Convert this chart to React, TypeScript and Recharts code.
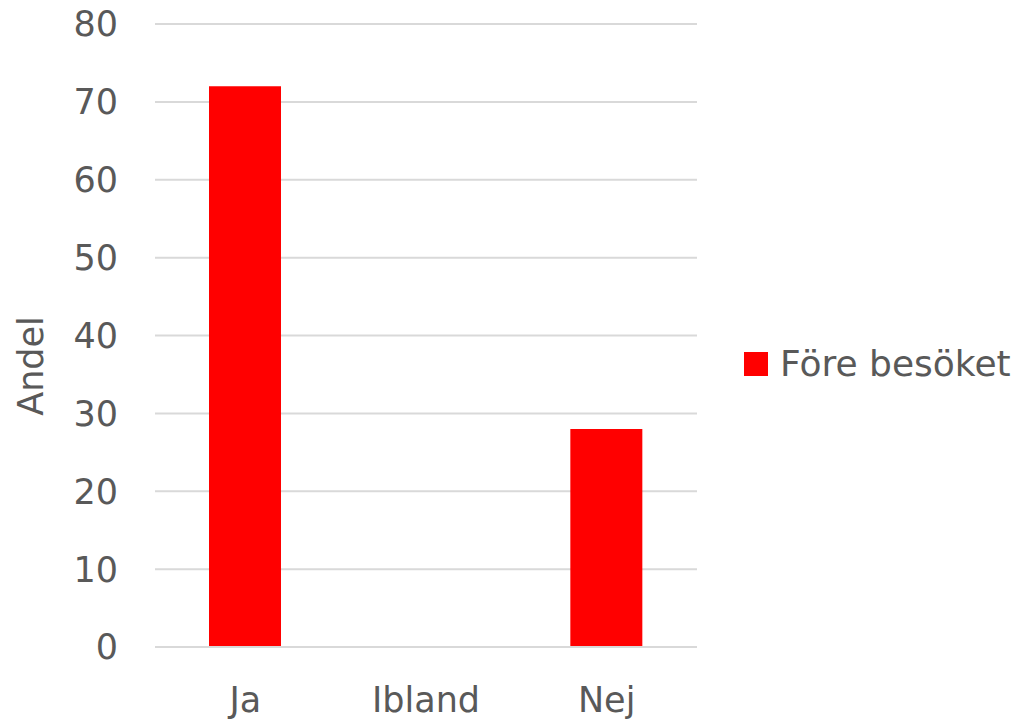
import React from 'react';
import { BarChart, Bar, XAxis, YAxis, CartesianGrid, Legend, Label } from 'recharts';

const categories = ['Ja', 'Ibland', 'Nej'];
const foreBesoket = [72, 0, 28];
const yTicks = [0, 10, 20, 30, 40, 50, 60, 70, 80];
const seriesName = 'Före besöket';
const yLabel = 'Andel';

const data = categories.map((c, i) => ({ name: c, v: foreBesoket[i] }));

const FONT = "Tahoma, 'DejaVu Sans', sans-serif";
const TXT = '#595959';

const LegendContent = () => (
  <div style={{ display: 'flex', alignItems: 'center', fontFamily: FONT, fontSize: 36, color: TXT, whiteSpace: 'nowrap' }}>
    <span style={{ display: 'inline-block', width: 24, height: 24, background: '#FF0000', marginRight: 12 }} />
    <span>{seriesName}</span>
  </div>
);

export default function App() {
  return (
    <div style={{ position: 'absolute', left: 0, top: 0, width: 1028, height: 726, background: '#fff' }}>
      <BarChart width={1028} height={726} data={data} margin={{ top: 24, right: 331, bottom: 9, left: 50 }}>
        <CartesianGrid vertical={false} stroke="#D9D9D9" strokeWidth={2} />
        <XAxis dataKey="name" axisLine={{ stroke: '#D9D9D9', strokeWidth: 2 }} tickLine={false} tickSize={0} tickMargin={40} height={70}
          tick={{ fill: TXT, fontSize: 35, fontFamily: FONT }} />
        <YAxis domain={[0, 80]} ticks={yTicks} width={105} axisLine={false} tickLine={false} tickSize={0} tickMargin={37}
          tick={{ fill: TXT, fontSize: 35, fontFamily: FONT }} interval={0}>
          <Label content={() => (
            <text x={31} y={366} transform="rotate(-90 31 366)" textAnchor="middle" dominantBaseline="central"
              fill={TXT} fontSize={35} fontFamily={FONT}>{yLabel}</text>
          )} />
        </YAxis>
        <Legend layout="horizontal" verticalAlign="middle" align="center" content={<LegendContent />}
          wrapperStyle={{ left: 744, top: 343, width: 290, height: 44 }} />
        <Bar dataKey="v" name={seriesName} fill="#FF0000" barSize={72} isAnimationActive={false} />
      </BarChart>
    </div>
  );
}
